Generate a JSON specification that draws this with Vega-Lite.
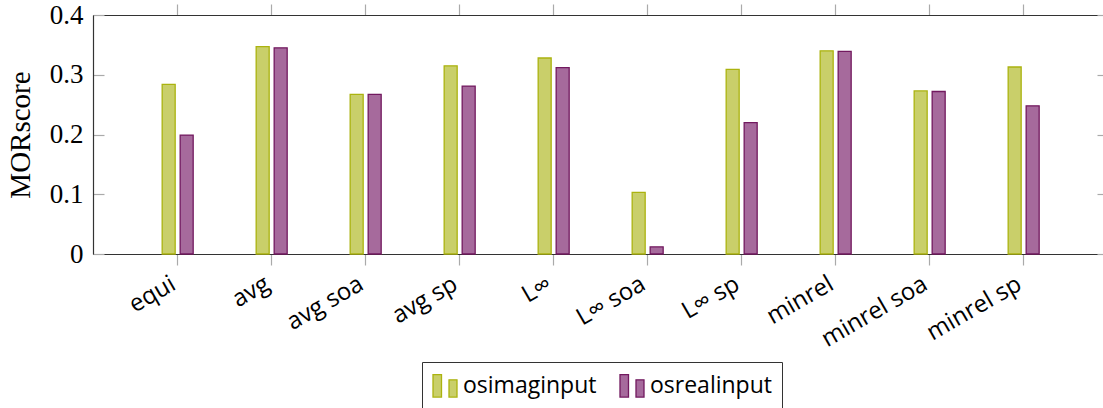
{
  "$schema": "https://vega.github.io/schema/vega-lite/v6.json",
  "width": 1010,
  "height": 239,
  "autosize": {"type": "none"},
  "padding": {"left": 93, "top": 15, "right": 0, "bottom": 154},
  "background": "white",
  "config": {"view": {"stroke": null}},
  "data": {
    "values": [
      {"method": "equi", "series": "osimaginput", "value": 0.284},
      {"method": "equi", "series": "osrealinput", "value": 0.199},
      {"method": "avg", "series": "osimaginput", "value": 0.347},
      {"method": "avg", "series": "osrealinput", "value": 0.345},
      {"method": "avg soa", "series": "osimaginput", "value": 0.267},
      {"method": "avg soa", "series": "osrealinput", "value": 0.267},
      {"method": "avg sp", "series": "osimaginput", "value": 0.315},
      {"method": "avg sp", "series": "osrealinput", "value": 0.281},
      {"method": "L∞", "series": "osimaginput", "value": 0.328},
      {"method": "L∞", "series": "osrealinput", "value": 0.312},
      {"method": "L∞ soa", "series": "osimaginput", "value": 0.103},
      {"method": "L∞ soa", "series": "osrealinput", "value": 0.012},
      {"method": "L∞ sp", "series": "osimaginput", "value": 0.309},
      {"method": "L∞ sp", "series": "osrealinput", "value": 0.220},
      {"method": "minrel", "series": "osimaginput", "value": 0.340},
      {"method": "minrel", "series": "osrealinput", "value": 0.339},
      {"method": "minrel soa", "series": "osimaginput", "value": 0.273},
      {"method": "minrel soa", "series": "osrealinput", "value": 0.272},
      {"method": "minrel sp", "series": "osimaginput", "value": 0.313},
      {"method": "minrel sp", "series": "osrealinput", "value": 0.248}
    ]
  },
  "layer": [
    {
      "mark": {"type": "bar", "strokeWidth": 1.3, "width": 13},
      "encoding": {
        "x": {
          "field": "method", "type": "nominal",
          "sort": ["equi", "avg", "avg soa", "avg sp", "L∞", "L∞ soa", "L∞ sp", "minrel", "minrel soa", "minrel sp"],
          "scale": {"paddingInner": 0.234, "paddingOuter": 0.4894, "align": 0.529},
          "axis": {
            "orient": "bottom", "title": null,
            "labelAngle": -30, "labelAlign": "right", "labelBaseline": "middle",
            "labelFont": "Open Sans", "labelFontSize": 24, "labelColor": "#000",
            "labelPadding": 17, "labelOffset": -4, "tickSize": 11, "tickColor": "#aaa", "tickWidth": 1.2,
            "domainColor": "#333", "domainWidth": 1.2
          }
        },
        "xOffset": {
          "field": "series", "type": "nominal",
          "sort": ["osimaginput", "osrealinput"],
          "scale": {"paddingInner": 0, "paddingOuter": 1}
        },
        "y": {
          "field": "value", "type": "quantitative",
          "scale": {"domain": [0, 0.4], "nice": false},
          "axis": {
            "orient": "left", "values": [0, 0.1, 0.2, 0.3, 0.4],
            "labelExpr": "datum.value == 0 ? '0' : format(datum.value, '.1f')",
            "labelFont": "Liberation Serif", "labelFontSize": 27, "labelColor": "#000",
            "labelPadding": 21, "tickSize": -11, "tickColor": "#aaa", "tickWidth": 1.2,
            "domainColor": "#333", "domainWidth": 1.2, "grid": false,
            "title": "MORscore", "titleFont": "Liberation Serif", "titleFontSize": 29,
            "titleFontWeight": "normal", "titleColor": "#000", "titlePadding": 14
          }
        },
        "fill": {
          "field": "series", "type": "nominal",
          "scale": {"domain": ["osimaginput", "osrealinput"], "range": ["#c9cf6a", "#a66a9c"]},
          "legend": {
            "orient": "none", "legendX": 329, "legendY": 347, "direction": "horizontal",
            "title": null, "symbolType": "M-1,-0.9H-0.32V0.9H-1Z M0.28,-0.48H0.92V0.9H0.28Z",
            "symbolSize": 625, "symbolStrokeWidth": 1.3, "symbolOpacity": 1,
            "labelFont": "Open Sans", "labelFontSize": 23, "labelColor": "#000", "labelLimit": 0,
            "labelOffset": 4, "columnPadding": 20, "padding": 10,
            "strokeColor": "#333", "fillColor": "white"
          }
        },
        "stroke": {
          "field": "series", "type": "nominal",
          "scale": {"domain": ["osimaginput", "osrealinput"], "range": ["#abb30f", "#72195f"]},
          "legend": {
            "orient": "none", "legendX": 329, "legendY": 347, "direction": "horizontal",
            "title": null, "symbolType": "M-1,-0.9H-0.32V0.9H-1Z M0.28,-0.48H0.92V0.9H0.28Z",
            "symbolSize": 625, "symbolStrokeWidth": 1.3, "symbolOpacity": 1,
            "labelFont": "Open Sans", "labelFontSize": 23, "labelColor": "#000", "labelLimit": 0,
            "labelOffset": 4, "columnPadding": 20, "padding": 10,
            "strokeColor": "#333", "fillColor": "white"
          }
        }
      }
    },
    {
      "mark": {"type": "point", "opacity": 0},
      "encoding": {
        "x": {
          "field": "method", "type": "nominal",
          "sort": ["equi", "avg", "avg soa", "avg sp", "L∞", "L∞ soa", "L∞ sp", "minrel", "minrel soa", "minrel sp"],
          "axis": {
            "orient": "top", "title": null, "labels": false,
            "tickSize": 11, "tickColor": "#aaa", "tickWidth": 1.2,
            "domainColor": "#333", "domainWidth": 1.2
          }
        },
        "y": {
          "field": "value", "type": "quantitative",
          "axis": {
            "orient": "right", "title": null, "labels": false, "domain": false,
            "values": [0, 0.1, 0.2, 0.3, 0.4],
            "tickSize": -6, "tickColor": "#aaa", "tickWidth": 1.2, "grid": false
          }
        }
      }
    }
  ],
  "resolve": {"axis": {"x": "independent", "y": "independent"}}
}
